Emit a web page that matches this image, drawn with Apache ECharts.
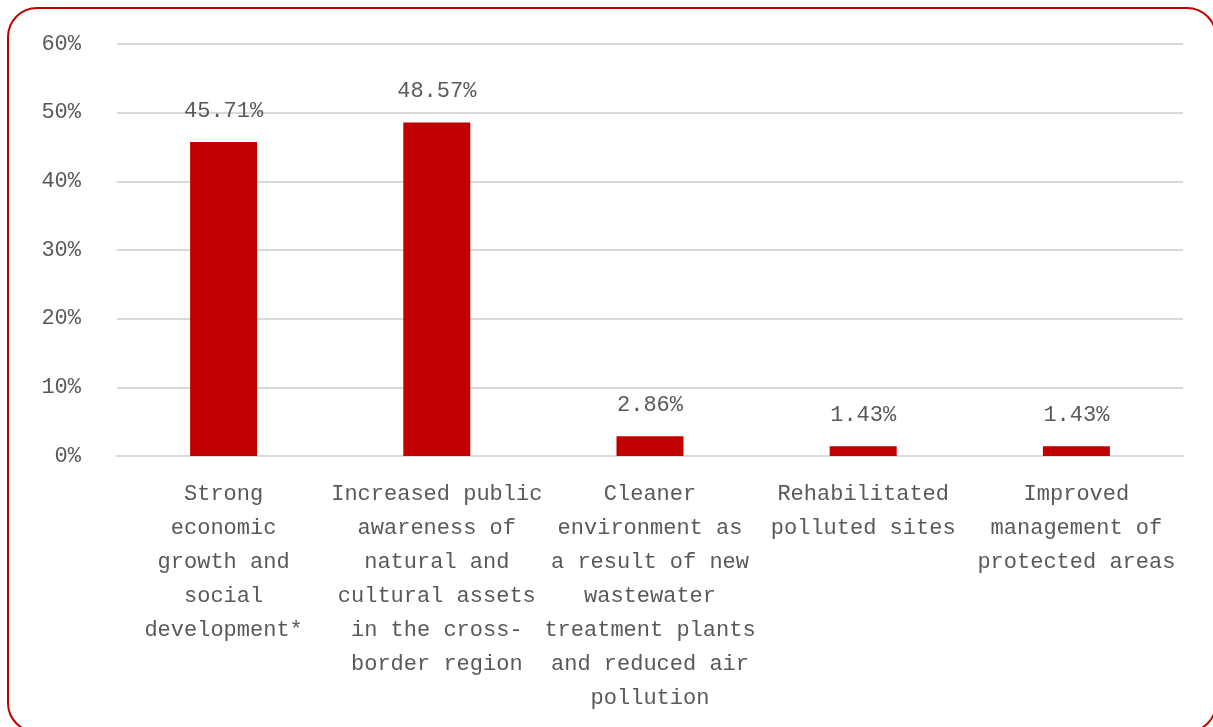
<!DOCTYPE html>
<html>
<head>
<meta charset="utf-8">
<script src="https://cdn.jsdelivr.net/npm/echarts@6/dist/echarts.min.js"></script>
<style>
  html, body { margin: 0; padding: 0; background: #fff; }
  #wrap { position: relative; width: 1213px; height: 727px; overflow: hidden; }
  #frame {
    position: absolute; left: 7px; top: 7px; width: 1210px; height: 726px;
    border: 2px solid #C00000; border-radius: 30px; box-sizing: border-box;
  }
  #chart { position: absolute; left: 0; top: 0; width: 1213px; height: 727px; }
</style>
</head>
<body>
<div id="wrap">
  <div id="frame"></div>
  <div id="chart"></div>
</div>
<script>
// Outcome categories (wrapped as they appear under the axis)
const categories = [
  "Strong\neconomic\ngrowth and\nsocial\ndevelopment*",
  "Increased public\nawareness of\nnatural and\ncultural assets\nin the cross-\nborder region",
  "Cleaner\nenvironment as\na result of new\nwastewater\ntreatment plants\nand reduced air\npollution",
  "Rehabilitated\npolluted sites",
  "Improved\nmanagement of\nprotected areas"
];
// Share of respondents, in percent
const shares = [45.71, 48.57, 2.86, 1.43, 1.43];
// Value axis range and step, in percent
const yMin = 0;
const yMax = 60;
const yStep = 10;

const textColor = "#595959";
const fontFamily = "'Liberation Mono', 'DejaVu Sans Mono', monospace";

const chart = echarts.init(document.getElementById("chart"), null, { renderer: "canvas" });
chart.setOption({
  animation: false,
  grid: { left: 117, right: 30, top: 44, bottom: 271, containLabel: false },
  xAxis: {
    type: "category",
    data: categories,
    axisLine: { show: true, lineStyle: { color: "#d9d9d9", width: 2 } },
    axisTick: { show: false },
    axisLabel: {
      interval: 0,
      margin: 21,
      color: textColor,
      fontFamily: fontFamily,
      fontSize: 22,
      lineHeight: 34,
      align: "center"
    }
  },
  yAxis: {
    type: "value",
    min: yMin,
    max: yMax,
    interval: yStep,
    axisLine: { show: false },
    axisTick: { show: false },
    splitLine: { lineStyle: { color: "#d9d9d9", width: 2 } },
    axisLabel: {
      margin: 36,
      color: textColor,
      fontFamily: fontFamily,
      fontSize: 22,
      formatter: v => v + "%"
    }
  },
  series: [{
    type: "bar",
    data: shares,
    barWidth: 67,
    itemStyle: { color: "#C00000" },
    label: {
      show: true,
      position: "top",
      distance: 20,
      color: textColor,
      fontFamily: fontFamily,
      fontSize: 22,
      formatter: p => p.value.toFixed(2) + "%"
    }
  }]
});
</script>
</body>
</html>
